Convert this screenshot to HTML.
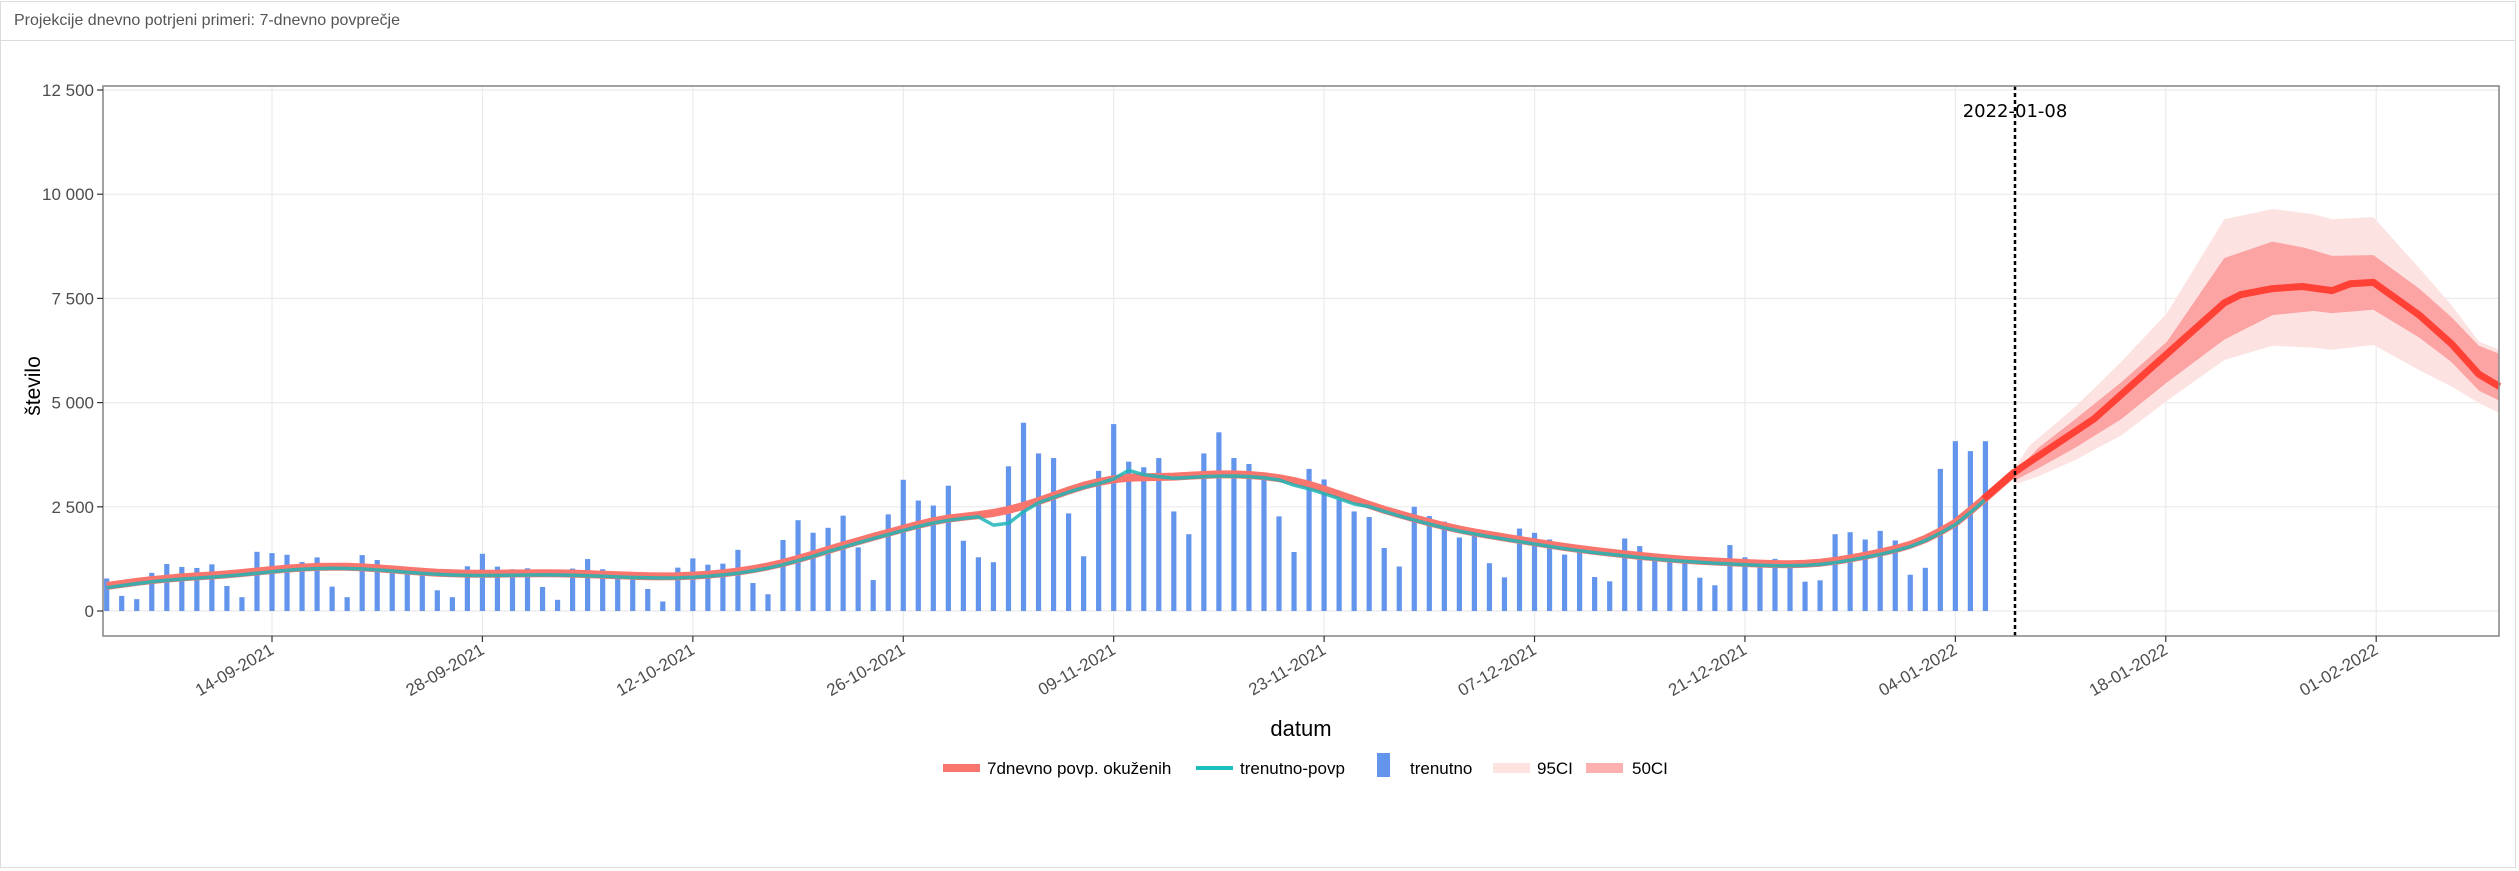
<!DOCTYPE html>
<html><head><meta charset="utf-8">
<style>
html,body{margin:0;padding:0;background:#fff;}
body{width:2519px;height:871px;overflow:hidden;position:relative;font-family:"Liberation Sans",sans-serif;}
#panel{position:absolute;left:0;top:1px;width:2516px;height:867px;border:1px solid #dcdcdc;box-sizing:border-box;}
#hdr{position:absolute;left:0;top:0;width:100%;height:39px;border-bottom:1px solid #dcdcdc;font-size:16px;color:#555;line-height:38px;padding-left:13px;box-sizing:border-box;}
svg{position:absolute;left:0;top:0;}
</style></head><body>
<div id="panel"><div id="hdr">Projekcije dnevno potrjeni primeri: 7-dnevno povprečje</div></div>
<svg id="s" width="2519" height="871" xmlns="http://www.w3.org/2000/svg" font-family="Liberation Sans, DejaVu Sans, sans-serif"></svg>
<script>
var S=document.getElementById('s'),NS='http://www.w3.org/2000/svg';
function el(t,a,txt){var e=document.createElementNS(NS,t);for(var k in a)e.setAttribute(k,a[k]);if(txt!=null)e.textContent=txt;S.appendChild(e);return e;}
var L=103,R=2499,T=86,B=636;
function X(d){return 272+15.03*d;}
function Y(v){return 611-v*0.04168;}
[0,2500,5000,7500,10000,12500].forEach(function(v){el('line',{x1:L,x2:R,y1:Y(v),y2:Y(v),stroke:'#ebebeb','stroke-width':1.2});});
var ticks=['14-09-2021','28-09-2021','12-10-2021','26-10-2021','09-11-2021','23-11-2021','07-12-2021','21-12-2021','04-01-2022','18-01-2022','01-02-2022'];
ticks.forEach(function(t,i){var x=X(i*14);el('line',{x1:x,x2:x,y1:T,y2:B,stroke:'#ebebeb','stroke-width':1.2});});
var bars=[780,363,284,915,1128,1057,1033,1120,600,331,1420,1389,1349,1175,1286,584,331,1341,1223,1050,1000,900,497,331,1073,1373,1065,1002,1025,576,268,1018,1247,1002,870,850,529,229,1041,1262,1112,1136,1467,671,402,1704,2178,1878,1996,2288,1527,743,2318,
3148,2650,2531,3006,1685,1289,1171,3472,4517,3781,3670,2341,1313,3362,4485,3583,3449,3670,2389,1843,3781,4287,3670,3528,3148,2270,1416,3409,3156,2674,2389,2254,1511,1068,2500,2278,
2144,1764,1819,1147,807,1978,1875,1716,1353,1408,815,712,1740,1558,1250,1210,1210,799,617,1582,1289,1131,1250,1131,704,736,1843,1890,1716,1922,1693,870,1036,3409,4074,3836,4074];
var d0=-11;
bars.forEach(function(v,i){var x=X(d0+i);el('rect',{x:x-2.6,y:Y(v),width:5.2,height:Y(0)-Y(v),fill:'#6495ed'});});
var avg=[];for(var i=0;i<bars.length;i++){var s=0,n=0;for(var j=Math.max(0,i-6);j<=i;j++){s+=bars[j];n++;}
 var a=s/n; if(i<6){a=600+i*50;} avg.push(a);}
// extra smoothing
var sm=avg.map(function(v,i){if(i<2||i>avg.length-3)return v;var s=0;for(var k=-2;k<=2;k++)s+=avg[i+k];return s/5;});
for(var q=0;q<2;q++){sm=sm.map(function(v,i){if(i<1||i>sm.length-4)return v;return (sm[i-1]+sm[i]+sm[i+1])/3;});}
function pts(arr){return arr.map(function(p){return p[0].toFixed(1)+','+p[1].toFixed(1);}).join(' ');}
var red=sm.map(function(v,i){return [X(d0+i),Y(v)];});
red.push([2015,Y(3335)]);
el('polyline',{points:pts(red),fill:'none',stroke:'#f8766d','stroke-width':8,'stroke-linejoin':'round'});
var teal=sm.map(function(v,i){var d=d0+i,dv=0;
 if(d==48)dv=-250;if(d==49)dv=-280;if(d==50)dv=-100;if(d==56)dv=50;if(d==57)dv=220;if(d==58)dv=100;if(d==59)dv=50;
 if(d>=68&&d<=72)dv=-60;return [X(d),Y(v-40+dv)];});
el('polyline',{points:pts(teal),fill:'none',stroke:'#1fb5b5','stroke-width':3.5,'stroke-opacity':0.85,'stroke-linejoin':'round'});
function Z(p){return [1800+p[0]/2.18,60+p[1]/2.45];}
function band(up,lo,fill){var a=up.map(Z).concat(lo.slice().reverse().map(Z));el('polygon',{points:pts(a),fill:fill});}
var u95=[[468,1000],[500,945],[600,850],[700,740],[800,620],[925,390],[1030,365],[1120,378],[1160,390],[1250,385],[1350,510],[1420,600],[1480,690],[1525,710]];
var l95=[[468,1040],[520,1020],[600,980],[700,920],[800,835],[925,735],[1030,700],[1120,705],[1160,710],[1250,698],[1350,760],[1420,800],[1480,840],[1525,865]];
var u50=[[468,1010],[520,950],[600,880],[700,790],[800,690],[925,485],[1030,445],[1100,460],[1160,480],[1250,478],[1350,560],[1420,630],[1480,700],[1525,720]];
var l50=[[468,1030],[520,1000],[600,950],[700,880],[800,790],[925,685],[1030,625],[1120,615],[1160,620],[1250,612],[1350,680],[1420,740],[1480,810],[1525,835]];
band(u95,l95,'#fde2e2');band(u50,l50,'#fca3a3');
var med=[[400,1075],[468,1010],[500,985],[560,940],[640,880],[720,800],[800,720],[860,660],[925,595],[960,575],[1030,560],[1095,555],[1160,565],[1200,548],[1250,545],[1350,625],[1420,695],[1480,770],[1525,800]];
el('polyline',{points:pts(med.map(Z)),fill:'none',stroke:'#ff4136','stroke-width':7,'stroke-linejoin':'round'});
el('line',{x1:2015,x2:2015,y1:T,y2:B,stroke:'#000','stroke-width':2.5,'stroke-dasharray':'4,3'});
el('text',{x:2015,y:117,'text-anchor':'middle','font-size':18,fill:'#000','font-family':'DejaVu Sans, sans-serif'},'2022-01-08');
el('rect',{x:L,y:T,width:R-L,height:B-T,fill:'none',stroke:'#8a8a8a','stroke-width':1.6});
[[0,'0'],[2500,'2 500'],[5000,'5 000'],[7500,'7 500'],[10000,'10 000'],[12500,'12 500']].forEach(function(p){
 el('line',{x1:97,x2:L,y1:Y(p[0]),y2:Y(p[0]),stroke:'#333','stroke-width':1.2});
 el('text',{x:94,y:Y(p[0])+6,'text-anchor':'end','font-size':17,fill:'#4d4d4d'},p[1]);});
ticks.forEach(function(t,i){var x=X(i*14);el('line',{x1:x,x2:x,y1:B,y2:B+6,stroke:'#333','stroke-width':1.2});
 el('text',{x:x+3,y:B+17,'text-anchor':'end','font-size':17,fill:'#4d4d4d',transform:'rotate(-30 '+(x+3)+' '+(B+17)+')'},t);});
el('text',{x:40,y:386,'text-anchor':'middle','font-size':21,fill:'#000',transform:'rotate(-90 40 386)'},'število');
el('text',{x:1301,y:736,'text-anchor':'middle','font-size':22,fill:'#000'},'datum');
var ly=768;
el('rect',{x:943,y:ly-4,width:37,height:8,fill:'#f8766d'});
el('text',{x:987,y:ly+6,'font-size':17,fill:'#000'},'7dnevno povp. okuženih');
el('rect',{x:1196,y:ly-2,width:37,height:4,fill:'#1fbfbf'});
el('text',{x:1240,y:ly+6,'font-size':17,fill:'#000'},'trenutno-povp');
el('rect',{x:1377,y:753,width:13,height:24,fill:'#6495ed'});
el('text',{x:1410,y:ly+6,'font-size':17,fill:'#000'},'trenutno');
el('rect',{x:1493,y:ly-5,width:37,height:10,fill:'#fde2e2'});
el('text',{x:1537,y:ly+6,'font-size':17,fill:'#000'},'95CI');
el('rect',{x:1586,y:ly-5,width:37,height:10,fill:'#fcb0b0'});
el('text',{x:1632,y:ly+6,'font-size':17,fill:'#000'},'50CI');
</script>
</body></html>
